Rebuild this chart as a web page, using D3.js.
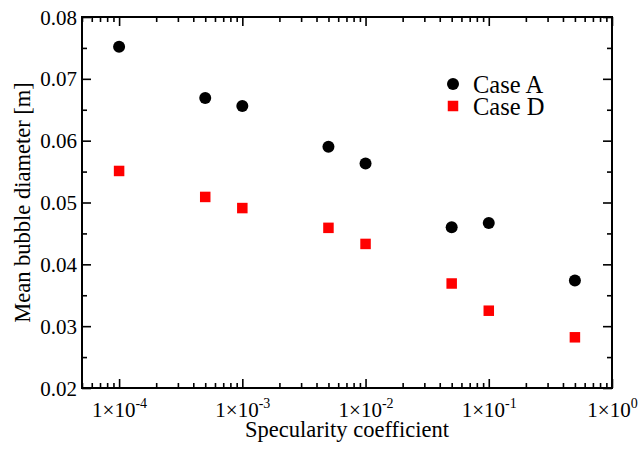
<!DOCTYPE html>
<html>
<head>
<meta charset="utf-8">
<script src="https://cdn.jsdelivr.net/npm/d3@7"></script>
<style>
  html, body { margin: 0; padding: 0; background: #fff; }
  svg { display: block; }
  text { font-family: "Liberation Serif", "Times New Roman", serif; fill: #000; }
</style>
</head>
<body>
<svg id="chart" width="643" height="450"></svg>
<script>
// Specularity coefficient values (shared by both cases)
const specularity = [1e-4, 5e-4, 1e-3, 5e-3, 1e-2, 5e-2, 1e-1, 5e-1];
// Mean bubble diameter [m]
const caseA = [0.0752, 0.0669, 0.0656, 0.0590, 0.0563, 0.0460, 0.0467, 0.0374];
const caseD = [0.0551, 0.0509, 0.0491, 0.0459, 0.0433, 0.0369, 0.0325, 0.0282];
const seriesNames = ["Case A", "Case D"];

const xMajorTicks = [1e-4, 1e-3, 1e-2, 1e-1, 1e0];
const xTickExponents = ["-4", "-3", "-2", "-1", "0"];
const yMajorTicks = [0.02, 0.03, 0.04, 0.05, 0.06, 0.07, 0.08];
const yTickLabels = ["0.02", "0.03", "0.04", "0.05", "0.06", "0.07", "0.08"];

const svg = d3.select("#chart");
const margin = { left: 82, right: 31, top: 17, bottom: 62 };
const W = 643, H = 450;
const plotW = W - margin.left - margin.right;
const plotH = H - margin.top - margin.bottom;

const x = d3.scaleLog().domain([5e-5, 1]).range([margin.left, margin.left + plotW]);
const y = d3.scaleLinear().domain([0.02, 0.08]).range([margin.top + plotH, margin.top]);

// minor ticks: 2..9 within each decade, and half steps on y
const xMinor = [];
for (let e = -5; e <= 0; e++) {
  for (let m = 2; m <= 9; m++) {
    const v = m * Math.pow(10, e);
    if (v >= 5e-5 && v <= 1) xMinor.push(v);
  }
}
const yMinor = d3.range(0.025, 0.08, 0.01);

const majorLen = 9, minorLen = 5;
const axisStroke = 1.6;

function styleAxis(g) {
  g.select(".domain").remove();
  g.selectAll("line").attr("stroke", "#000").attr("stroke-width", axisStroke);
}

// bottom axis: inward ticks, labels drawn as 1×10^n
const gBottom = svg.append("g").attr("transform", `translate(0,${margin.top + plotH})`);
gBottom.call(d3.axisBottom(x).tickValues(xMinor).tickSize(-minorLen).tickFormat(""));
gBottom.call(styleAxis);
const gBottomMajor = svg.append("g").attr("transform", `translate(0,${margin.top + plotH})`);
gBottomMajor.call(d3.axisBottom(x).tickValues(xMajorTicks).tickSize(-majorLen).tickPadding(0)
  .tickFormat(() => "1×10"));
gBottomMajor.call(styleAxis);
gBottomMajor.selectAll("text")
  .attr("font-size", 21)
  .attr("y", 29)
  .attr("dy", null)
  .each(function (d, i) {
    const t = d3.select(this);
    t.text(null);
    t.append("tspan").text("1×10");
    t.append("tspan").attr("font-size", 14).attr("dy", -9).text(xTickExponents[i]);
  });

// top axis mirror
const gTop = svg.append("g").attr("transform", `translate(0,${margin.top})`);
gTop.call(d3.axisTop(x).tickValues(xMinor).tickSize(-minorLen).tickFormat(""));
gTop.call(styleAxis);
const gTopMajor = svg.append("g").attr("transform", `translate(0,${margin.top})`);
gTopMajor.call(d3.axisTop(x).tickValues(xMajorTicks).tickSize(-majorLen).tickFormat(""));
gTopMajor.call(styleAxis);

// left axis
const gLeft = svg.append("g").attr("transform", `translate(${margin.left},0)`);
gLeft.call(d3.axisLeft(y).tickValues(yMinor).tickSize(-minorLen).tickFormat(""));
gLeft.call(styleAxis);
const gLeftMajor = svg.append("g").attr("transform", `translate(${margin.left},0)`);
gLeftMajor.call(d3.axisLeft(y).tickValues(yMajorTicks).tickSize(-majorLen).tickPadding(0)
  .tickFormat((d, i) => yTickLabels[i]));
gLeftMajor.call(styleAxis);
gLeftMajor.selectAll("text").attr("font-size", 21).attr("x", -5).attr("dy", "0.34em");

// right axis mirror
const gRight = svg.append("g").attr("transform", `translate(${margin.left + plotW},0)`);
gRight.call(d3.axisRight(y).tickValues(yMinor).tickSize(-minorLen).tickFormat(""));
gRight.call(styleAxis);
const gRightMajor = svg.append("g").attr("transform", `translate(${margin.left + plotW},0)`);
gRightMajor.call(d3.axisRight(y).tickValues(yMajorTicks).tickSize(-majorLen).tickFormat(""));
gRightMajor.call(styleAxis);

// frame
svg.append("rect")
  .attr("x", margin.left).attr("y", margin.top)
  .attr("width", plotW).attr("height", plotH)
  .attr("fill", "none").attr("stroke", "#000").attr("stroke-width", 2);

// axis titles
svg.append("text")
  .attr("x", margin.left + plotW / 2).attr("y", 437)
  .attr("text-anchor", "middle").attr("font-size", 22.5)
  .text("Specularity coefficient");
svg.append("text")
  .attr("transform", `translate(30,${margin.top + plotH / 2}) rotate(-90)`)
  .attr("text-anchor", "middle").attr("font-size", 22.5)
  .text("Mean bubble diameter [m]");

// Case A: black circles
const pointsA = specularity.map((s, i) => ({ s, v: caseA[i] }));
svg.append("g").selectAll("circle").data(pointsA).join("circle")
  .attr("cx", d => x(d.s)).attr("cy", d => y(d.v)).attr("r", 6)
  .attr("fill", "#000");

// Case D: red squares
const sq = 10.5;
const pointsD = specularity.map((s, i) => ({ s, v: caseD[i] }));
svg.append("g").selectAll("rect").data(pointsD).join("rect")
  .attr("x", d => x(d.s) - sq / 2).attr("y", d => y(d.v) - sq / 2)
  .attr("width", sq).attr("height", sq)
  .attr("fill", "#ff0000");

// legend
const legend = svg.append("g").attr("transform", "translate(453,84)");
legend.append("circle").attr("cx", 0).attr("cy", 0).attr("r", 6).attr("fill", "#000");
legend.append("text").attr("x", 20).attr("y", 9).attr("font-size", 24.5).text(seriesNames[0]);
legend.append("rect").attr("x", -sq / 2).attr("y", 22 - sq / 2).attr("width", sq).attr("height", sq).attr("fill", "#ff0000");
legend.append("text").attr("x", 20).attr("y", 31).attr("font-size", 24.5).text(seriesNames[1]);
</script>
</body>
</html>
